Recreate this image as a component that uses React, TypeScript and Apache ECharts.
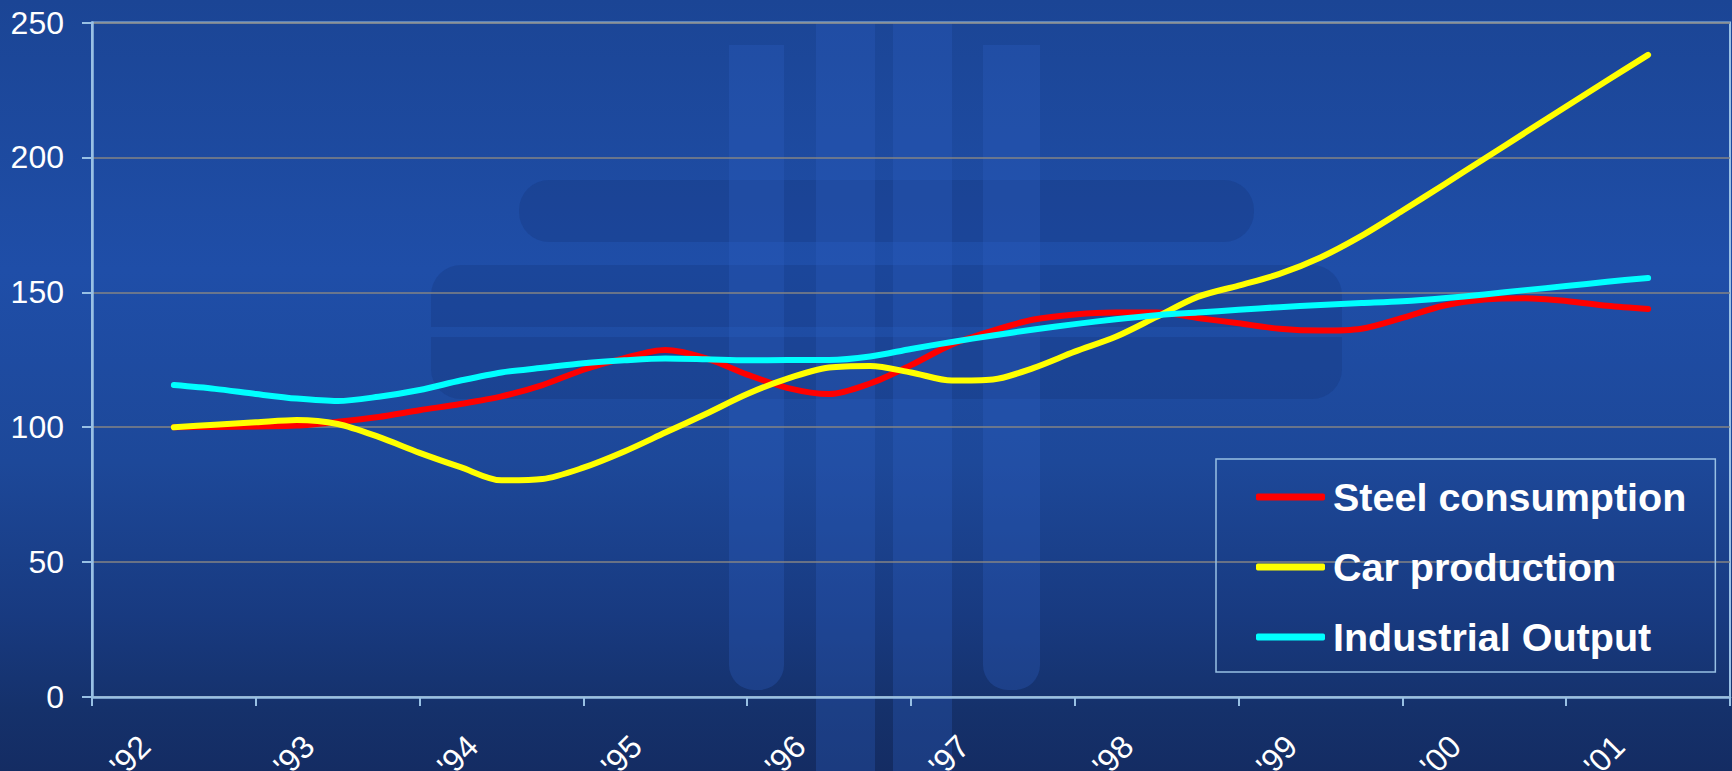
import React, { useEffect, useRef } from "react";
import * as echarts from "echarts";

const years = ["'92", "'93", "'94", "'95", "'96", "'97", "'98", "'99", "'00", "'01"];
// quarterly values, 4 per year, from '92 to '01
const steelConsumption = [100, 100.1, 100.3, 100.6, 102, 103.8, 106.3, 108.6, 111.4, 115.6, 121.3, 125.6, 128.6, 125.5, 119.5, 114.5, 112.3, 116.2, 123, 130.7, 135.8, 139.9, 141.8, 142.5, 142.5, 140.5, 138.5, 136.5, 135.8, 136.5, 140.5, 145, 147.3, 147.8, 146.8, 145, 143.8];
const carProduction = [100, 100.9, 101.8, 102.7, 101.2, 96.4, 90.5, 85.2, 80.3, 80.8, 85, 91, 98, 105, 112.3, 118.1, 122.1, 122.7, 120.3, 117.3, 117.7, 122, 128, 133.5, 140.9, 148.3, 152.5, 156.8, 162.9, 170.9, 180.2, 189.8, 199.5, 209.2, 218.9, 228.5, 238];
const industrialOutput = [115.6, 114.2, 112.3, 110.6, 109.7, 111.3, 113.8, 117.3, 120.3, 122, 123.7, 124.8, 125.5, 125.2, 124.8, 124.9, 124.9, 126.2, 129, 131.6, 134, 136.2, 138.2, 140, 141.5, 142.5, 143.5, 144.5, 145.3, 146, 146.7, 147.8, 149.2, 150.8, 152.3, 153.9, 155.3];
const seriesNames = ["Steel consumption", "Car production", "Industrial Output"];
const seriesColors = ["#ff0000", "#ffff00", "#00ffff"];
const yTicks = { min: 0, max: 250, interval: 50 };

const toPoints = (arr: number[]) => arr.map((v, i) => [i / 4, v]);

export default function App() {
  const ref = useRef<HTMLDivElement>(null);
  useEffect(() => {
    const chart = echarts.init(ref.current!, null, { renderer: "svg" });
    const font = "Arial, 'Liberation Sans', sans-serif";
    const axisBlue = "#98c0e4";
    const dark = "rgba(14,38,100,0.2)";
    const light = "rgba(45,95,195,0.3)";
    const watermark: any[] = [
      { type: "rect", z: -10, shape: { x: 519, y: 180, width: 735, height: 62, r: [30, 30, 30, 30] }, style: { fill: dark } },
      { type: "rect", z: -10, shape: { x: 431, y: 265, width: 911, height: 62, r: [30, 30, 0, 0] }, style: { fill: dark } },
      { type: "rect", z: -10, shape: { x: 431, y: 337, width: 911, height: 62, r: [0, 0, 30, 30] }, style: { fill: dark } },
      { type: "rect", z: -9, shape: { x: 729, y: 45, width: 55, height: 645, r: [0, 0, 25, 25] }, style: { fill: light } },
      { type: "rect", z: -9, shape: { x: 816, y: 22, width: 59, height: 749 }, style: { fill: light } },
      { type: "rect", z: -9, shape: { x: 893, y: 22, width: 59, height: 749 }, style: { fill: light } },
      { type: "rect", z: -9, shape: { x: 983, y: 45, width: 57, height: 645, r: [0, 0, 25, 25] }, style: { fill: light } },
    ];
    chart.setOption({
      animation: false,
      backgroundColor: new echarts.graphic.LinearGradient(0, 0, 0, 1, [
        { offset: 0, color: "#1b4595" },
        { offset: 0.35, color: "#1f4ea8" },
        { offset: 0.6, color: "#1d4899" },
        { offset: 0.8, color: "#183a80" },
        { offset: 0.92, color: "#15316b" },
        { offset: 1, color: "#142c63" },
      ]),
      graphic: watermark,
      grid: {
        left: 92,
        right: 2,
        top: 22.5,
        height: 674.5,
        outerBoundsMode: "none",
        containLabel: false,
        show: true,
        borderColor: axisBlue,
        borderWidth: 2,
        backgroundColor: "transparent",
      },
      legend: {
        orient: "vertical",
        left: 1216,
        top: 459,
        padding: [18, 29, 15, 40],
        borderColor: axisBlue,
        borderWidth: 1.5,
        itemGap: 30,
        itemWidth: 69,
        itemHeight: 7,
        icon: "roundRect",
        data: seriesNames,
        textStyle: {
          color: "#ffffff",
          fontSize: 39.5,
          lineHeight: 38,
          fontWeight: "bold",
          fontFamily: font,
          padding: [0, 0, 0, 3],
        },
      },
      xAxis: [
        {
          type: "category",
          data: years,
          boundaryGap: true,
          axisLine: { show: true, lineStyle: { color: axisBlue, width: 2.5 } },
          axisTick: { show: true, length: 9, lineStyle: { color: axisBlue, width: 2 } },
          axisLabel: {
            interval: 0,
            rotate: 45,
            margin: 15,
            padding: [0, 41, 0, 0],
            color: "#ffffff",
            fontSize: 32,
            fontFamily: font,
          },
          splitLine: { show: false },
        },
        { type: "value", min: -0.5, max: 9.5, show: false },
      ],
      yAxis: {
        type: "value",
        min: yTicks.min,
        max: yTicks.max,
        interval: yTicks.interval,
        axisLine: { show: true, onZero: false, lineStyle: { color: axisBlue, width: 2.5 } },
        axisTick: { show: true, length: 10, lineStyle: { color: axisBlue, width: 2 } },
        axisLabel: { margin: 28, color: "#ffffff", fontSize: 32, fontFamily: font },
        splitLine: { show: true, lineStyle: { color: "#858585", width: 1.5 } },
      },
      series: [steelConsumption, carProduction, industrialOutput].map((arr, k) => ({
        name: seriesNames[k],
        type: "line",
        xAxisIndex: 1,
        data: toPoints(arr),
        smooth: 0.3,
        showSymbol: false,
        symbol: "none",
        color: seriesColors[k],
        lineStyle: { color: seriesColors[k], width: 6, cap: "round", join: "round" },
        itemStyle: { color: seriesColors[k] },
        z: 3 + k,
      })),
    });
    return () => chart.dispose();
  }, []);
  return <div ref={ref} style={{ position: "fixed", left: 0, top: 0, width: 1732, height: 771 }} />;
}
